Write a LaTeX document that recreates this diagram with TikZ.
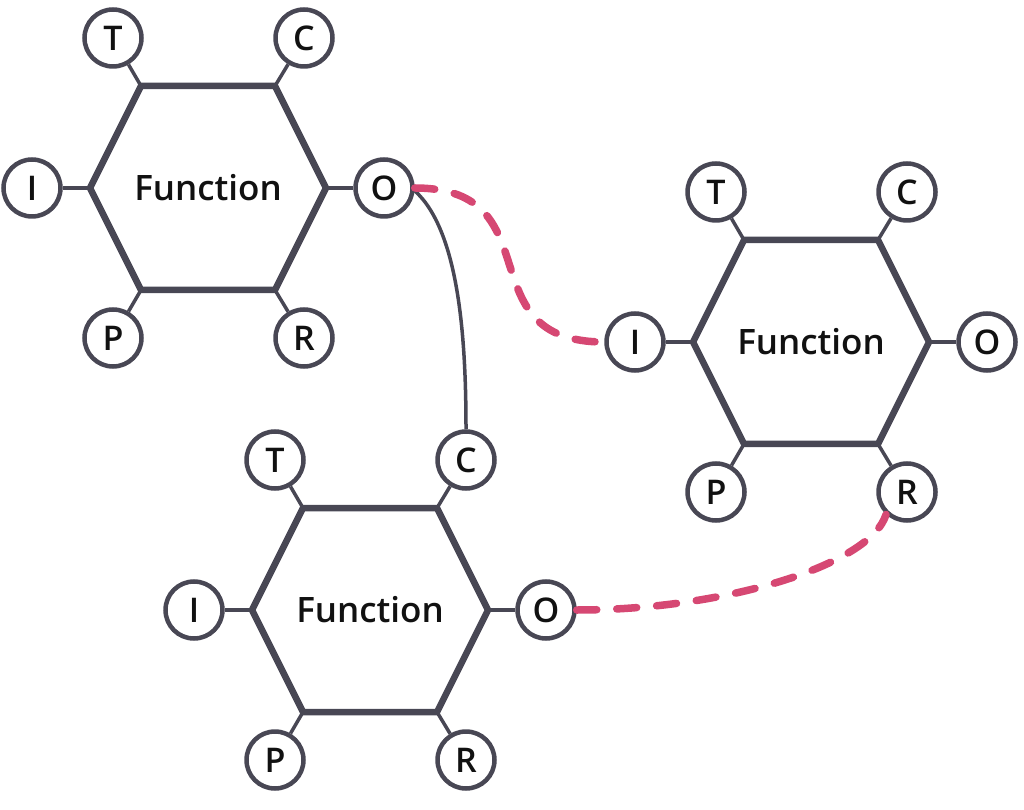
\documentclass[tikz,border=0pt]{standalone}
\usepackage{fontspec}
\IfFontExistsTF{Open Sans SemiBold}
  {\newfontfamily\lab{Open Sans}[BoldFont={Open Sans SemiBold}]}
  {\IfFontExistsTF{Open Sans Semibold}
    {\newfontfamily\lab{Open Sans}[BoldFont={Open Sans Semibold}]}
    {\newfontfamily\lab{Open Sans}}}
\definecolor{dk}{RGB}{72,71,84}
\definecolor{pk}{RGB}{214,72,115}
\definecolor{tx}{RGB}{17,17,17}
\newcommand\funcunit[3]{%
  \begin{scope}[shift={(#2,#3)}]
    \coordinate (#1vl) at (-118,0);
    \coordinate (#1vtl) at (-67,102);
    \coordinate (#1vtr) at (67,102);
    \coordinate (#1vr) at (118,0);
    \coordinate (#1vbr) at (67,-102);
    \coordinate (#1vbl) at (-67,-102);
    \node[port] (#1T) at (-95,150) {T};
    \node[port] (#1C) at (96,150) {C};
    \node[port] (#1I) at (-176,0) {I};
    \node[port] (#1O) at (176,0) {O};
    \node[port] (#1P) at (-95,-150) {P};
    \node[port] (#1R) at (96,-150) {R};
    \draw[link] (#1T) -- (#1vtl);
    \draw[link] (#1C) -- (#1vtr);
    \draw[link] (#1I) -- (#1vl);
    \draw[link] (#1O) -- (#1vr);
    \draw[link] (#1P) -- (#1vbl);
    \draw[link] (#1R) -- (#1vbr);
    \draw[hexline] (#1vl) -- (#1vtl) -- (#1vtr) -- (#1vr) -- (#1vbr) -- (#1vbl) -- cycle;
    \node[fname] (#1f) at (0,0) {Function};
  \end{scope}}
\begin{document}
\begin{tikzpicture}[x=1pt,y=1pt,
  port/.style={circle, draw=dk, line width=4.5pt, minimum size=57pt, inner sep=0pt, fill=white, text=tx, font=\lab\bfseries\fontsize{34}{34}\selectfont},
  fname/.style={inner sep=0pt, text=tx, font=\lab\bfseries\fontsize{35}{35}\selectfont},
  link/.style={draw=dk, line width=3.5pt},
  hexline/.style={draw=dk, line width=6.5pt, line join=miter},
  wire/.style={draw=dk, line width=3.5pt},
  flow/.style={draw=pk, line width=7.5pt, line cap=round, dash pattern=on 20pt off 20pt}]
\useasboundingbox (0,0) rectangle (1024,809);
\funcunit{a}{208}{621}
\funcunit{b}{811}{467}
\funcunit{c}{370}{199}
\draw[wire] (aO.-5) to[out=-42,in=90,out distance=60,in distance=90] (cC.north);
\draw[flow] (aO.east) to[out=0,in=180,distance=140] (bI.west);
\draw[flow] (cO.east) to[out=0,in=-107,out distance=150,in distance=52] (bR.227);
\end{tikzpicture}
\end{document}
